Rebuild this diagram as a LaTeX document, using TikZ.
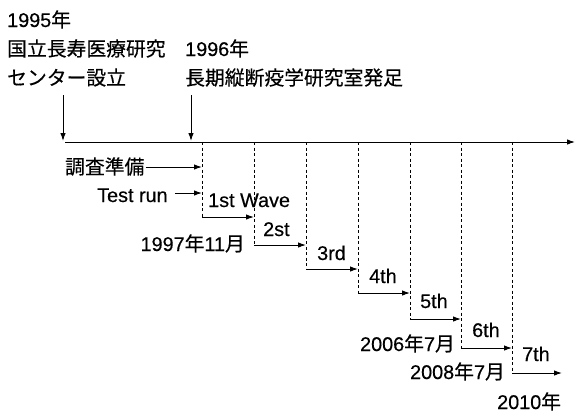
\documentclass[tikz,border=0pt]{standalone}
\usepackage{fontspec}
\setmainfont{Liberation Sans}[FakeBold=0.4]
\newfontfamily\cjk{Noto Sans CJK JP}[FakeBold=0.3]
\usetikzlibrary{arrows.meta}
\begin{document}
\begin{tikzpicture}[x=1pt,y=-1pt,
  lbl/.style={inner sep=0pt, font=\fontsize{19.8}{20}\selectfont},
  arr/.style={-{Latex[length=8pt,width=5.5pt]}, line width=1pt},
  dsh/.style={dash pattern=on 3pt off 2.5pt, line width=1pt}]
\useasboundingbox (0,0) rectangle (575,413);
% top texts
\node[lbl, anchor=base west] (y95) at (7,27) {1995{\cjk 年}};
\node[lbl, anchor=base west] (n1) at (7,56) {\cjk 国立長寿医療研究};
\node[lbl, anchor=base west] (n2) at (7,85) {\cjk センター設立};
\node[lbl, anchor=base west] (y96) at (185,56) {1996{\cjk 年}};
\node[lbl, anchor=base west] (n3) at (185,85) {\cjk 長期縦断疫学研究室発足};
% main time axis
\coordinate (axs) at (65,142);
\coordinate (axe) at (575,142);
\draw[arr] (axs) -- (axe);
\coordinate (d1s) at (63,95);
\coordinate (d1e) at (63,141);
\coordinate (d2s) at (191,95);
\coordinate (d2e) at (191,141);
\draw[arr] (d1s) -- (d1e);
\draw[arr] (d2s) -- (d2e);
% dashed verticals
\foreach \i/\x/\y in {1/202/217, 2/254/245, 3/306/269, 4/358/293, 5/410/319, 6/461/348, 7/512/373}{
  \coordinate (t\i) at (\x,142);
  \coordinate (b\i) at (\x,\y);
  \draw[dsh] (t\i) -- (b\i);
}
\foreach \i/\x/\y in {1/254/217, 2/306/245, 3/358/269, 4/410/293, 5/461/319, 6/512/348, 7/562/373}{
  \coordinate (e\i) at (\x,\y);
  \draw[arr] (b\i) -- (e\i);
}
% preparation
\node[lbl, anchor=base west] (prep) at (65,174) {\cjk 調査準備};
\coordinate (prepe) at (202,167);
\draw[arr] ([xshift=1pt]prep.east |- prepe) -- (prepe);
\node[lbl, anchor=base west] (test) at (97,202) {Test run};
\coordinate (teste) at (202,193);
\draw[arr] ([xshift=7pt]test.east |- teste) -- (teste);
% wave labels
\node[lbl, anchor=base west] (w1) at (208,207) {1st Wave};
\node[lbl, anchor=base west] (w2) at (263,236) {2st};
\node[lbl, anchor=base west] (w3) at (317,260) {3rd};
\node[lbl, anchor=base west] (w4) at (369,283) {4th};
\node[lbl, anchor=base west] (w5) at (420,308) {5th};
\node[lbl, anchor=base west] (w6) at (472,337) {6th};
\node[lbl, anchor=base west] (w7) at (522,361) {7th};
% dates
\node[lbl, anchor=base east] (dt1) at (245,251) {1997{\cjk 年}11{\cjk 月}};
\node[lbl, anchor=base east] (dt2) at (455,351) {2006{\cjk 年}7{\cjk 月}};
\node[lbl, anchor=base east] (dt3) at (505,379) {2008{\cjk 年}7{\cjk 月}};
\node[lbl, anchor=base west] (dt4) at (497,409) {2010{\cjk 年}};
\end{tikzpicture}
\end{document}
